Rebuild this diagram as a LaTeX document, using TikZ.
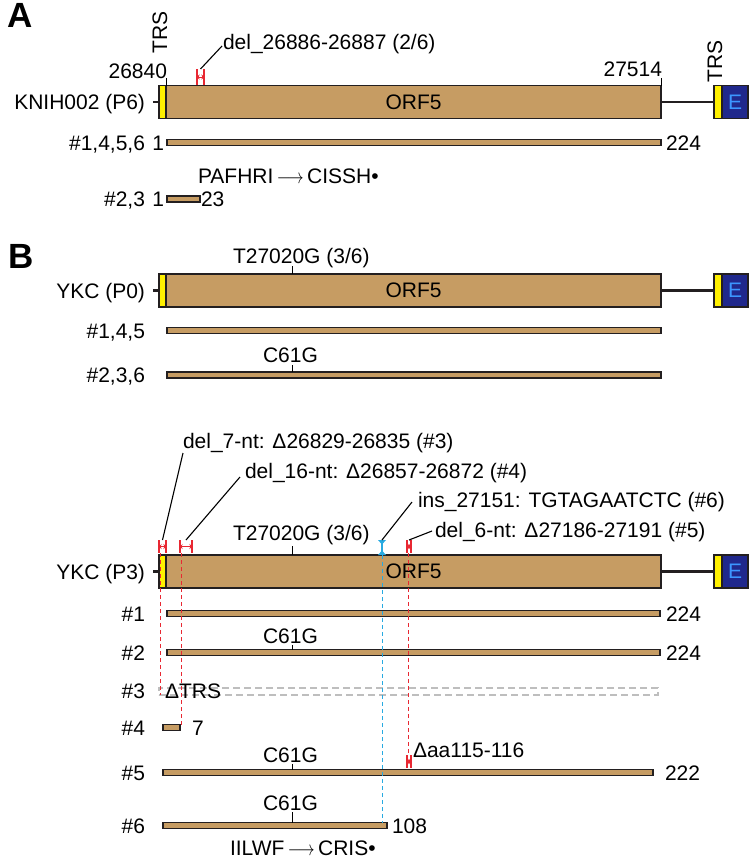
\documentclass[tikz,border=0pt]{standalone}
\usepackage{fontspec}
\usepackage{graphicx}
\setmainfont{Liberation Sans}
\usetikzlibrary{arrows.meta}
\definecolor{tanc}{RGB}{198,156,99}
\definecolor{outl}{RGB}{35,31,32}
\definecolor{trsy}{RGB}{255,240,0}
\definecolor{navyc}{RGB}{32,40,140}
\definecolor{etext}{RGB}{60,150,255}
\definecolor{redc}{RGB}{232,40,50}
\definecolor{bluec}{RGB}{40,170,225}
\definecolor{grayd}{RGB}{190,190,190}
\newcommand\gmap[3]{%
  \node[trsbox, minimum width=7pt, anchor=east] (#1t) at (166,#2) {};
  \node[orfbox] (#1o) at (166,#2) {ORF5};
  \node[trsbox, minimum width=8pt, anchor=east] (#1u) at (722,#2) {};
  \node[ebox] (#1e) at (722,#2) {E};
  \draw[link] (#1o.east) -- (#1u.west);
  \coordinate (#1l) at (153,#2);
  \draw[link] (#1t.west) -- (#1l);
  \node[lab] (#1n) at (145,#2+7.5) {#3};
}
\newcommand\pbar[4]{\node[barbox, minimum width={(#3-#2)*1pt}] (#1) at (#2,#4) {};}
\newcommand\vtick[3]{\coordinate (#1) at (292,#2); \draw[tickl] (#1) -- (#1 |- #3.north);}
\newcommand\dmark[5]{%
  \draw[redc, line width=1.3pt] (#2,#4) -- (#2,#5) (#3,#4) -- (#3,#5);
  \draw[redc, line width=1pt, {Stealth[length=2.5pt,width=5pt]}-{Stealth[length=2.5pt,width=5pt]}] (#2,{(#4+#5)/2}) -- (#3,{(#4+#5)/2});
  \coordinate (#1) at (#2+1,#5);
  \coordinate (#1t) at (#2+1,#4);
  \coordinate (#1c) at ({(#2+#3)/2},#4);
}
\newcommand\arr{\,\scalebox{0.8}[1]{$\longrightarrow$}\,}
\begin{document}
\begin{tikzpicture}[x=1pt,y=-1pt,
  every node/.style={font=\fontsize{21}{25}\selectfont, inner sep=0pt, outer sep=0pt},
  orfbox/.style={draw=outl, fill=tanc, line width=1.6pt, minimum width=495pt, minimum height=33pt, anchor=west},
  trsbox/.style={draw=outl, fill=trsy, line width=1.3pt, minimum height=33pt},
  ebox/.style={draw=outl, fill=navyc, line width=1.3pt, minimum height=33pt, minimum width=26pt, text=etext, anchor=west},
  barbox/.style={draw=outl, fill=tanc, line width=1.5pt, minimum height=6pt, anchor=west},
  ghost/.style={draw=grayd, line width=1.2pt, dash pattern=on 7pt off 4pt, minimum height=7pt, anchor=west},
  link/.style={draw=outl, line width=2.2pt},
  ptr/.style={draw=black, line width=1.1pt},
  tickl/.style={draw=black, line width=1pt},
  lab/.style={anchor=base east},
  txt/.style={anchor=base west},
  reddash/.style={draw=redc, line width=1pt, dash pattern=on 4pt off 3pt},
  bluedash/.style={draw=bluec, line width=1pt, dash pattern=on 4pt off 3pt},
  panel/.style={font=\fontsize{35}{40}\selectfont\bfseries, anchor=base west}]
\useasboundingbox (0,0) rectangle (750,859);
% ---------------- Panel A
\node[panel] (pa) at (8,28) {A};
\gmap{k}{102}{KNIH002 (P6)}
\node[rotate=90, anchor=base west] (ktrs1) at (167,53) {TRS};
\node[rotate=90, anchor=base west] (ktrs2) at (722,82) {TRS};
\draw[tickl] (kt.north east) -- ++(0,-8);
\draw[tickl] (ko.north east) -- ++(0,-8);
\node[anchor=base east] (kp1) at (167,78) {26840};
\node[anchor=base east] (kp2) at (662,77) {27514};
\dmark{ka}{197}{204}{69}{85}
\node[txt] (kdel) at (223,50) {del\_26886-26887 (2/6)};
\coordinate (kdelp) at (222,46);
\draw[ptr] (kac) -- (kdelp);
\pbar{k1}{167}{661}{142.5}
\node[lab] (k1n) at (145,150) {\#1,4,5,6};
\node[lab] (k1s) at (164,150) {1};
\node[txt] (k1e) at (666,150) {224};
\node[txt] (kpaf) at (198,183) {PAFHRI\arr CISSH•};
\pbar{k2}{167}{200}{199}
\node[lab] (k2n) at (145,206) {\#2,3};
\node[lab] (k2s) at (164,206) {1};
\node[txt] (k2e) at (201,206) {23};
% ---------------- Panel B, P0
\node[panel] (pb) at (9,268) {B};
\node[txt] (pmut) at (233,263) {T27020G (3/6)};
\gmap{p}{290.5}{YKC (P0)}
\vtick{pmt}{266}{po}
\pbar{p1}{167}{661}{330.5}
\node[lab] (p1n) at (145,338) {\#1,4,5};
\node[txt] (pc61) at (263,362) {C61G};
\pbar{p2}{167}{661}{375}
\vtick{p2t}{365}{p2}
\node[lab] (p2n) at (145,382) {\#2,3,6};
% ---------------- P3
\node[txt] (q7) at (183,448) {del\_7-nt: Δ26829-26835 (\#3)};
\node[txt] (q16) at (245,478) {del\_16-nt: Δ26857-26872 (\#4)};
\node[txt] (qmut) at (233,540) {T27020G (3/6)};
\node[txt] (qins) at (418,507) {ins\_27151: TGTAGAATCTC (\#6)};
\node[txt] (q6) at (435,537) {del\_6-nt: Δ27186-27191 (\#5)};
\gmap{q}{571.5}{YKC (P3)}
\vtick{qmt}{546}{qo}
% rows
\pbar{r1}{167}{660}{613.5}
\node[lab] (r1n) at (145,621) {\#1};
\node[txt] (r1e) at (666,621) {224};
\node[txt] (r2c) at (263,643) {C61G};
\pbar{r2}{167}{660}{652.5}
\vtick{r2t}{645}{r2}
\node[lab] (r2n) at (145,660) {\#2};
\node[txt] (r2e) at (666,660) {224};
\node[ghost, minimum width=499pt] (r3) at (159,691.5) {};
\node[txt] (r3t) at (165,698) {ΔTRS};
\node[lab] (r3n) at (145,698) {\#3};
\pbar{r4}{163}{180}{727.5}
\node[lab] (r4n) at (145,735) {\#4};
\node[txt] (r4e) at (192,735) {7};
\node[txt] (r5c) at (263,762) {C61G};
\pbar{r5}{163}{653}{772.5}
\vtick{r5t}{764}{r5}
\node[lab] (r5n) at (145,780) {\#5};
\node[txt] (r5e) at (665,780) {222};
\node[txt] (r5d) at (413,757) {Δaa115-116};
\node[txt] (r6c) at (263,810) {C61G};
\pbar{r6}{163}{387}{825.5}
\vtick{r6t}{812}{r6}
\node[lab] (r6n) at (145,833) {\#6};
\node[txt] (r6e) at (392,833) {108};
\node[txt] (r6t) at (230,855) {IILWF\arr CRIS•};
% markers on P3
\dmark{m7}{159}{166}{540}{553}
\dmark{m16}{180}{192}{540}{553}
\dmark{m6}{407}{411}{540}{553}
\dmark{m5}{407}{411}{755}{768}
\coordinate (mi) at (382,555);
\coordinate (mit) at (382,540);
\draw[bluec, line width=1.3pt] (mit) -- (mi);
\fill[bluec] (378,540) -- (386,540) -- (382,544.5) -- cycle;
\fill[bluec] (378,555) -- (386,555) -- (382,550.5) -- cycle;
% dashed guides
\draw[reddash] (m7) -- (m7 |- r3.south);
\draw[reddash] (m16) -- (m16 |- r4.north);
\draw[bluedash] (mi) -- (mi |- r6.north);
\draw[reddash] (m6) -- (m5t);
% pointers
\coordinate (q7p) at (183,453);
\coordinate (q16p) at (240,477);
\coordinate (qinsp) at (412,502);
\coordinate (q6p) at (432,531);
\draw[ptr] (m7c) -- (q7p);
\draw[ptr] (m16c) -- (q16p);
\draw[ptr] (mit) -- (qinsp);
\draw[ptr] (m6c) -- (q6p);
\end{tikzpicture}
\end{document}
